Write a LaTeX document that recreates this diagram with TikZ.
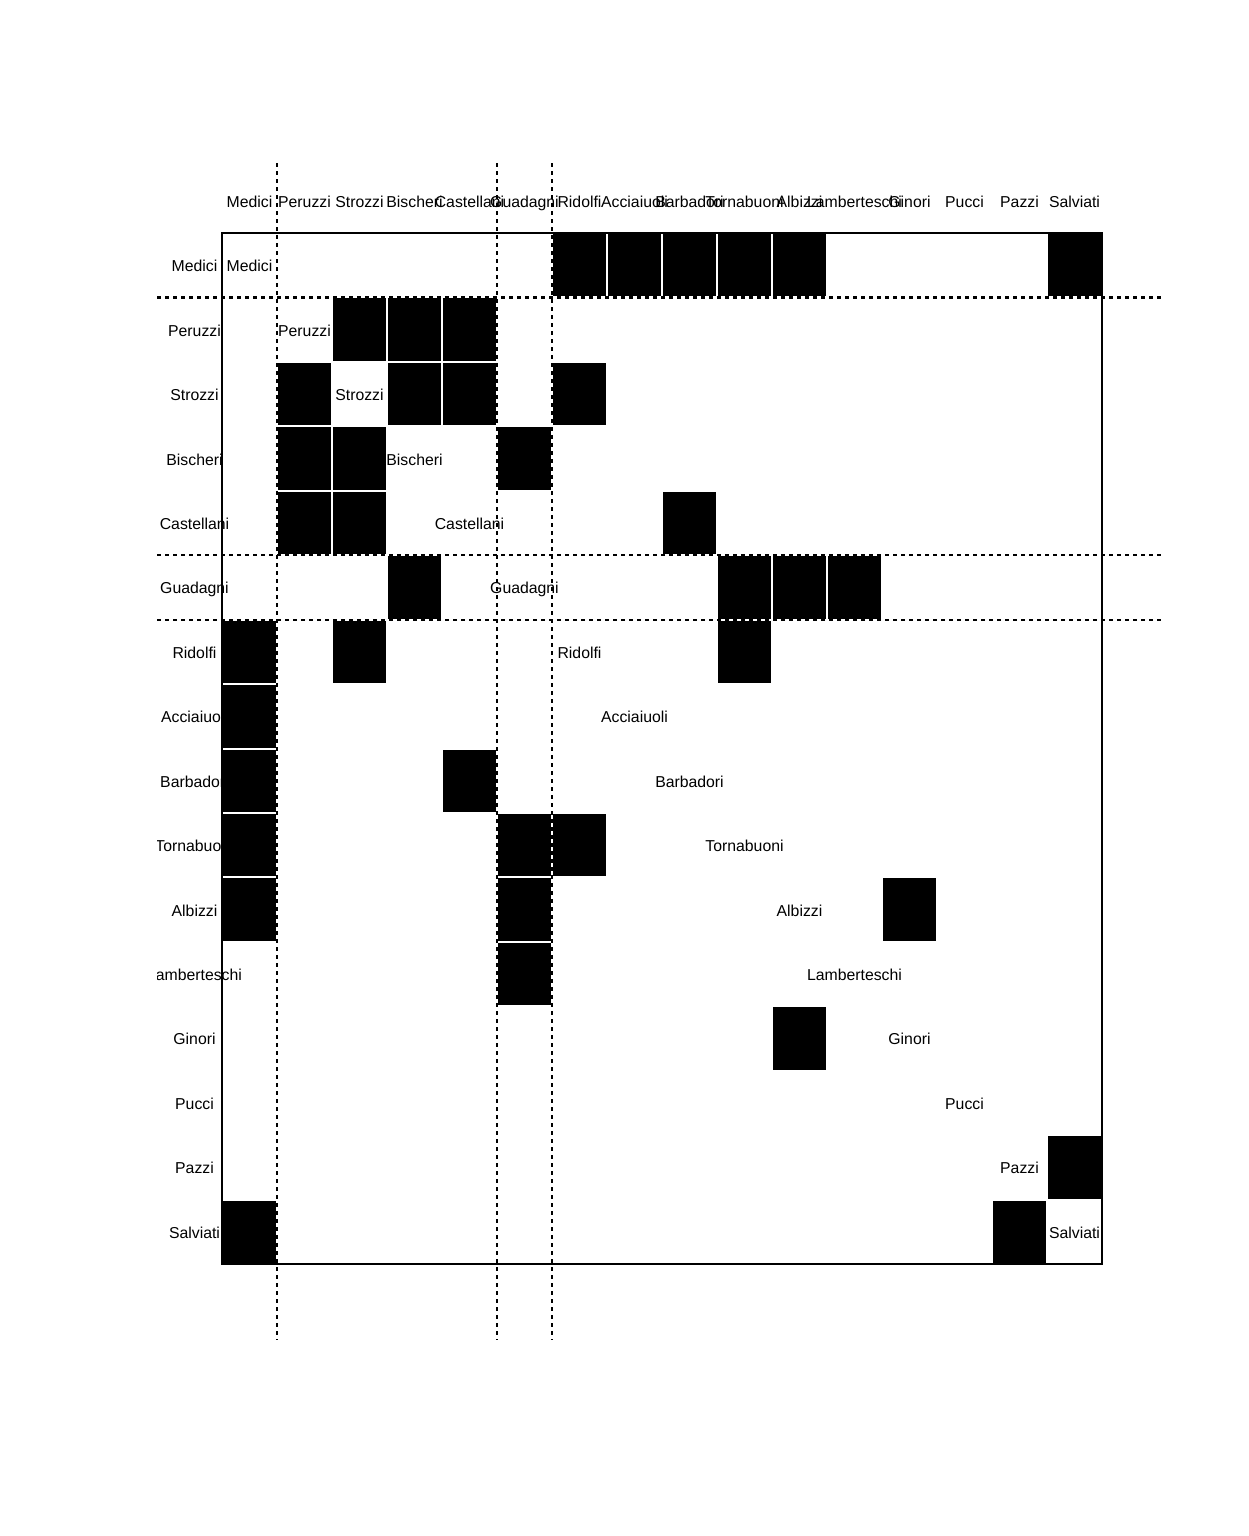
\documentclass[tikz,border=0pt]{standalone}
\usepackage{fontspec}
\setmainfont{Liberation Sans}
\begin{document}
\begin{tikzpicture}[x=1pt,y=-1pt,
  lab/.style={inner sep=0pt,anchor=base,font=\fontsize{15.8}{18}\selectfont},
  cellfill/.style={fill=black},
  frameline/.style={draw=black,line width=2pt},
  guide/.style={draw=black,line width=2.2pt,dash pattern=on 4pt off 4pt}]
\useasboundingbox[fill=white] (0,0) rectangle (1248,1536);
\begin{scope}
\clip (157,163) rectangle (1163,1340);
% labels
\foreach \n [count=\k from 0] in {Medici,Peruzzi,Strozzi,Bischeri,Castellani,Guadagni,Ridolfi,Acciaiuoli,Barbadori,Tornabuoni,Albizzi,Lamberteschi,Ginori,Pucci,Pazzi,Salviati} {
  \node[lab] (row\k) at (194.5, {233+64.4375*(\k+0.5)+6.5}) {\n};
  \node[lab] (col\k) at ({222+55*(\k+0.5)}, 207) {\n};
  \node[lab] (diag\k) at ({222+55*(\k+0.5)}, {233+64.4375*(\k+0.5)+6.5}) {\n};
}
% filled cells (row/col)
\foreach \r/\c in {0/6,0/7,0/8,0/9,0/10,0/15,
  1/2,1/3,1/4,
  2/1,2/3,2/4,2/6,
  3/1,3/2,3/5,
  4/1,4/2,4/8,
  5/3,5/9,5/10,5/11,
  6/0,6/2,6/9,
  7/0,
  8/0,8/4,
  9/0,9/5,9/6,
  10/0,10/5,10/12,
  11/5,
  12/10,
  14/15,
  15/0,15/14} {
  \fill[cellfill] ({222+55*\c+1}, {233+64.4375*\r+1}) rectangle ({222+55*(\c+1)-1}, {233+64.4375*(\r+1)-1});
}
% frame
\draw[frameline] (222,233) rectangle (1102,1264);
% dashed guides
\foreach \c in {1,5,6} {
  \draw[guide] ({222+55*\c},163) -- ({222+55*\c},1340);
}
\foreach \r in {1,5,6} {
  \draw[guide] (157,{233+64.4375*\r}) -- (1163,{233+64.4375*\r});
}
\end{scope}
\end{tikzpicture}
\end{document}
